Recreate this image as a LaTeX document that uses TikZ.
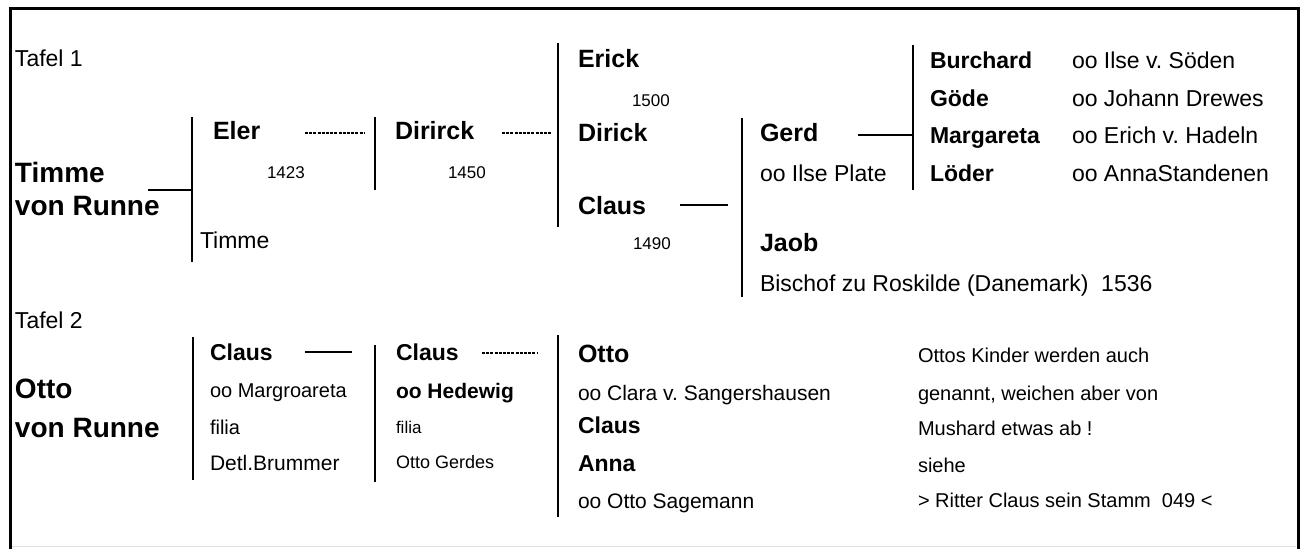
\documentclass[tikz,border=0pt]{standalone}
\usepackage{fontspec}
\setmainfont{Liberation Sans}
\frenchspacing
\begin{document}
\begin{tikzpicture}[x=1pt,y=-1pt,
  lbl/.style={anchor=base west, inner sep=0pt, outer sep=0pt},
  big/.style={lbl, font=\fontsize{28}{32}\selectfont\bfseries},
  nm/.style={lbl, font=\fontsize{25}{30}\selectfont\bfseries},
  snm/.style={lbl, font=\fontsize{23}{28}\selectfont\bfseries},
  txt/.style={lbl, font=\fontsize{23}{28}\selectfont},
  stxt/.style={lbl, font=\fontsize{21}{25}\selectfont},
  ntxt/.style={lbl, font=\fontsize{20}{24}\selectfont},
  tiny/.style={lbl, font=\fontsize{18}{22}\selectfont},
  yr/.style={lbl, font=\fontsize{17}{20}\selectfont},
  bar/.style={line width=2.6pt},
  solidlink/.style={line width=2.6pt},
  dashlink/.style={line width=1.8pt, dash pattern=on 3pt off 1.2pt},
  frame/.style={line width=3pt}]
\useasboundingbox (0,0) rectangle (1302,549);
\fill[white] (0,0) rectangle (1302,549);
% frame
\coordinate (fbl) at (10,549);
\coordinate (ftl) at (10,8);
\coordinate (ftr) at (1298,8);
\coordinate (fbr) at (1298,549);
\draw[frame] (fbl) -- (ftl) -- (ftr) -- (fbr);
\coordinate (bl) at (12,546);
\coordinate (br) at (1296,546);
\draw[black!12, line width=1pt] (bl) -- (br);

% ---------------- Tafel 1 ----------------
\node[txt] (t1) at (15,66) {Tafel 1};
\node[big] (timme) at (15,182) {Timme};
\node[big] (timme2) at (15,215) {von Runne};

\node[nm] (eler) at (213,139) {Eler};
\node[yr] (y1423) at (267,178) {1423};
\node[txt] (timmec) at (200,248) {Timme};

\node[nm] (dirirck) at (395,139) {Dirirck};
\node[yr] (y1450) at (448,178) {1450};

\node[nm] (erick) at (578,67) {Erick};
\node[yr] (y1500) at (632,106) {1500};
\node[nm] (dirick) at (578,141) {Dirick};
\node[nm] (claus) at (578,214) {Claus};
\node[yr] (y1490) at (633,249) {1490};

\node[nm] (gerd) at (760,141) {Gerd};
\node[txt] (gerdw) at (760,181) {oo Ilse Plate};
\node[nm] (jaob) at (760,251) {Jaob};
\node[txt] (jaobt) at (760,291) {Bischof zu Roskilde (Danemark)\ \ 1536};

\node[snm] (burchard) at (930,68) {Burchard};
\node[snm] (goede) at (930,106) {Göde};
\node[snm] (margareta) at (930,143) {Margareta};
\node[snm] (loeder) at (930,181) {Löder};
\node[txt] (burchardw) at (1072,68) {oo Ilse v. Söden};
\node[txt] (goedew) at (1072,106) {oo Johann Drewes};
\node[txt] (margaretaw) at (1072,143) {oo Erich v. Hadeln};
\node[txt] (loederw) at (1072,181) {oo AnnaStandenen};

% bars Tafel 1
\coordinate (b1t) at (192,117); \coordinate (b1b) at (192,262);
\coordinate (b2t) at (375,117); \coordinate (b2b) at (375,190);
\coordinate (b3t) at (558,43);  \coordinate (b3b) at (558,227);
\coordinate (b4t) at (742,118); \coordinate (b4b) at (742,297);
\coordinate (b5t) at (913,45);  \coordinate (b5b) at (913,190);
\foreach \b in {1,...,5}{\draw[bar] (b\b t) -- (b\b b);}

% links Tafel 1
\coordinate (l1a) at (148,190); \coordinate (l1b) at (192,190);
\draw[line width=2pt] (l1a) -- (l1b);
\coordinate (l2a) at (305,133); \coordinate (l2b) at (365,133);
\draw[dashlink] (l2a) -- (l2b);
\coordinate (l3a) at (502,133); \coordinate (l3b) at (552,133);
\draw[dashlink] (l3a) -- (l3b);
\coordinate (l4a) at (680,205); \coordinate (l4b) at (728,205);
\draw[solidlink] (l4a) -- (l4b);
\coordinate (l5a) at (858,135); \coordinate (l5b) at (913,135);
\draw[solidlink] (l5a) -- (l5b);

% ---------------- Tafel 2 ----------------
\node[txt] (t2) at (15,328) {Tafel 2};
\node[big] (otto) at (15,398) {Otto};
\node[big] (otto2) at (15,437) {von Runne};

\node[snm] (c1) at (210,360) {Claus};
\node[ntxt] (c1w) at (210,397) {oo Margroareta};
\node[ntxt] (c1f) at (210,434) {filia};
\node[stxt] (c1d) at (210,470) {Detl.Brummer};

\node[snm] (c2) at (396,360) {Claus};
\node[lbl, font=\fontsize{21}{25}\selectfont\bfseries] (c2w) at (396,398) {oo Hedewig};
\node[yr] (c2f) at (396,433) {filia};
\node[tiny] (c2d) at (396,468) {Otto Gerdes};

\node[nm] (o3) at (578,362) {Otto};
\node[stxt] (o3w) at (578,400) {oo Clara v. Sangershausen};
\node[snm] (o3c) at (578,433) {Claus};
\node[snm] (o3a) at (578,471) {Anna};
\node[stxt] (o3aw) at (578,508) {oo Otto Sagemann};

\node[ntxt] (n1) at (918,362) {Ottos Kinder werden auch};
\node[ntxt] (n2) at (918,400) {genannt, weichen aber von};
\node[ntxt] (n3) at (918,435) {Mushard etwas ab !};
\node[ntxt] (n4) at (918,472) {siehe};
\node[ntxt] (n5) at (918,507) {> Ritter Claus sein Stamm\ \ 049 <};

% bars Tafel 2
\coordinate (b6t) at (193,337); \coordinate (b6b) at (193,480);
\coordinate (b7t) at (375,345); \coordinate (b7b) at (375,482);
\coordinate (b8t) at (558,335); \coordinate (b8b) at (558,517);
\foreach \b in {6,7,8}{\draw[bar] (b\b t) -- (b\b b);}

\coordinate (l6a) at (305,352); \coordinate (l6b) at (352,352);
\draw[line width=2.2pt] (l6a) -- (l6b);
\coordinate (l7a) at (482,353); \coordinate (l7b) at (537,353);
\draw[dashlink] (l7a) -- (l7b);
\end{tikzpicture}
\end{document}
